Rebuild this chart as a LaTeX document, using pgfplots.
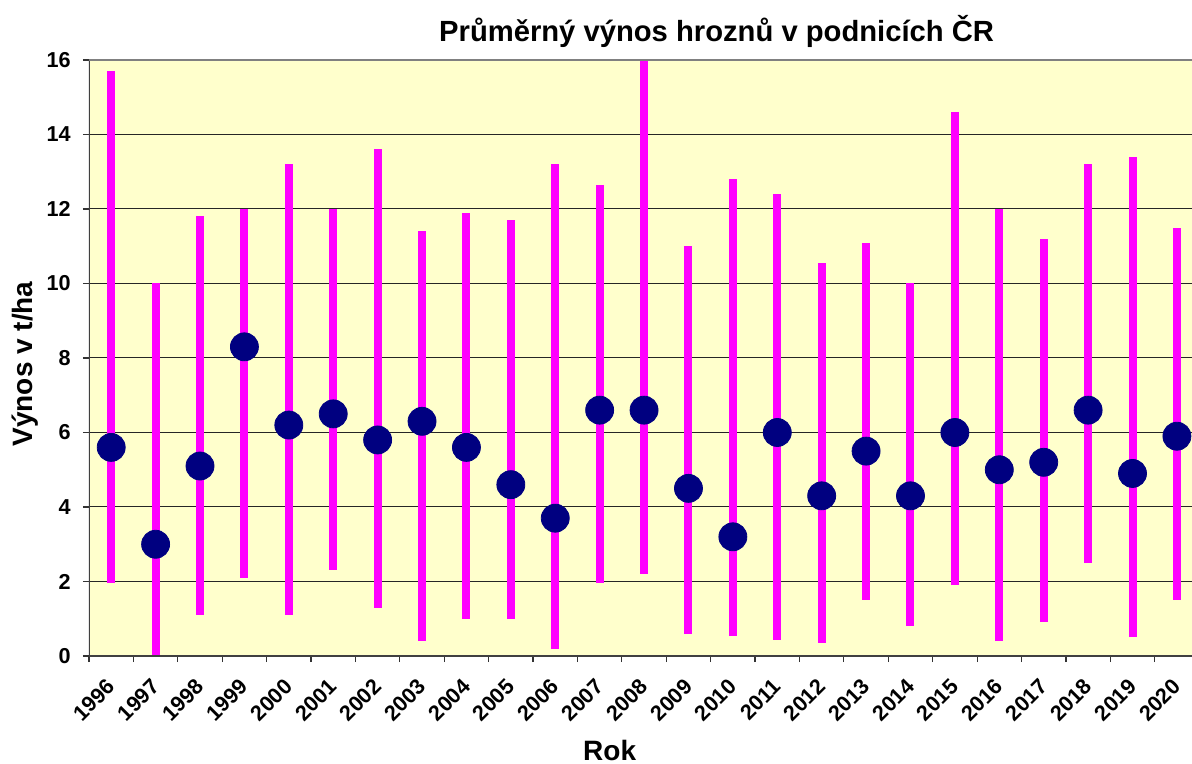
\documentclass[border=0pt]{standalone}
\usepackage{fontspec}
\setmainfont{Liberation Sans}
\usepackage{pgfplots}
\pgfplotsset{compat=1.18}
\usepackage{pgfplotstable}

\definecolor{bgyel}{HTML}{FFFFCC}
\definecolor{pink}{HTML}{FF00FF}
\definecolor{navy}{HTML}{000080}

% rok (střed kategorie), minimum, maximum, průměr
\pgfplotstableread{
x    lo    hi     mean
0.5  1.96  15.70  5.6
1.5  0.00  10.00  3.0
2.5  1.10  11.80  5.1
3.5  2.10  12.00  8.3
4.5  1.10  13.20  6.2
5.5  2.30  12.00  6.5
6.5  1.30  13.60  5.8
7.5  0.40  11.40  6.3
8.5  1.00  11.90  5.6
9.5  1.00  11.70  4.6
10.5 0.20  13.20  3.7
11.5 1.95  12.65  6.6
12.5 2.20  16.00  6.6
13.5 0.60  11.00  4.5
14.5 0.55  12.80  3.2
15.5 0.42  12.40  6.0
16.5 0.35  10.55  4.3
17.5 1.50  11.10  5.5
18.5 0.80  10.00  4.3
19.5 1.90  14.60  6.0
20.5 0.40  12.00  5.0
21.5 0.90  11.20  5.2
22.5 2.50  13.20  6.6
23.5 0.50  13.40  4.9
24.5 1.50  11.50  5.9
}\vynos

\begin{document}
\begin{tikzpicture}
\begin{axis}[
    name=ax,
    scale only axis,
    width=551.5pt, height=298pt,
    xmin=0, xmax=24.84,
    ymin=0, ymax=16,
    ytick={0,2,...,16},
    xtick={0.5,1.5,...,24.5},
    xticklabels={1996,1997,1998,1999,2000,2001,2002,2003,2004,2005,2006,2007,2008,2009,2010,2011,2012,2013,2014,2015,2016,2017,2018,2019,2020},
    minor xtick={0,1,...,24},
    xtick pos=bottom, ytick pos=left,
    tick align=outside,
    major tick length=3pt, minor tick length=3pt,
    major x tick style={draw=none},
    tick style={black!80, line width=0.6pt},
    ymajorgrids,
    major grid style={black!85, line width=0.5pt},
    axis line style={draw=none},
    axis background/.style={fill=bgyel},
    /pgf/number format/assume math mode=true,
    tick label style={font=\bfseries\fontsize{10.8}{12}\selectfont},
    xticklabel style={xshift=-2.8pt, yshift=-7.5pt, rotate=45, anchor=north east, inner sep=0pt},
    yticklabel style={inner sep=0pt, xshift=-6pt},
    title={Průměrný výnos hroznů v podnicích ČR},
    title style={font=\bfseries\fontsize{14.6}{16}\selectfont, at={(axis description cs:0.569,1.0285)}, anchor=center},
    xlabel={Rok},
    ylabel={Výnos v t/ha},
    xlabel style={font=\bfseries\fontsize{14}{16}\selectfont, at={(axis description cs:0.472,-0.158)}, anchor=center},
    ylabel style={font=\bfseries\fontsize{14}{16}\selectfont, at={(axis description cs:-0.058,0.49)}, anchor=center},
]
\addplot[draw=none, mark=none, forget plot,
    error bars/.cd, y dir=both, y explicit, error mark=none,
    error bar style={draw=pink, line width=4pt, line cap=butt}]
    table[x=x, y=mean,
          y error plus expr=\thisrow{hi}-\thisrow{mean},
          y error minus expr=\thisrow{mean}-\thisrow{lo}] {\vynos};
\addplot[only marks, mark=*, mark size=7pt, mark options={fill=navy, draw=navy}]
    table[x=x, y=mean] {\vynos};
\draw[black!75, line width=0.9pt] (rel axis cs:0,1) -- (rel axis cs:0,0) -- (rel axis cs:1,0);
\draw[gray, line width=1.2pt] (rel axis cs:0,1) -- (rel axis cs:1,1);
\end{axis}
\pgfresetboundingbox
\path ([xshift=-44.5pt,yshift=-54pt]ax.south west) rectangle ([yshift=30pt]ax.north east);
\end{tikzpicture}
\end{document}
